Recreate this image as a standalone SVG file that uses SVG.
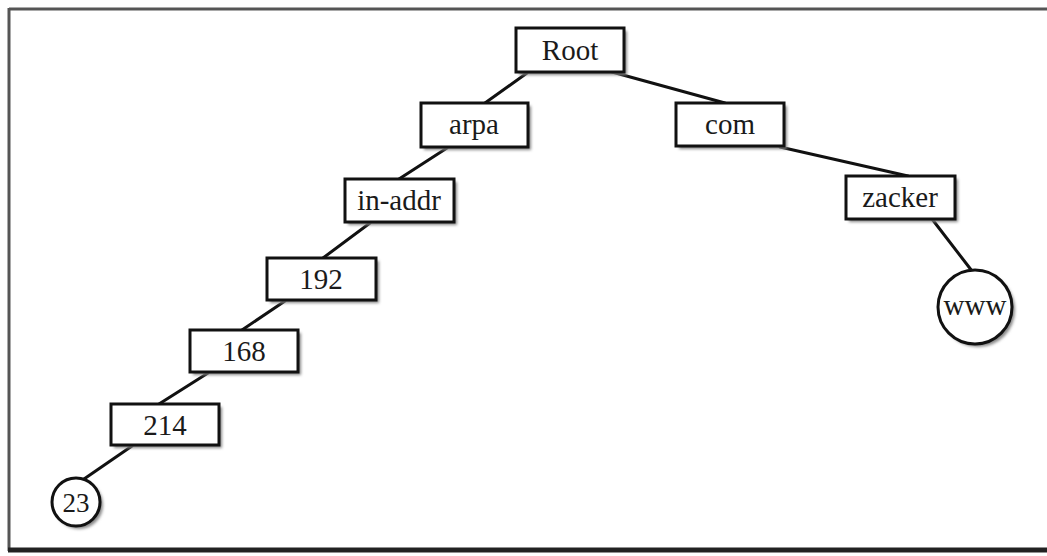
<svg xmlns="http://www.w3.org/2000/svg" width="1047" height="556" viewBox="0 0 1047 556">
<style>
.box{fill:#fff;stroke:#111;stroke-width:3}
.shadow{fill:#888;filter:url(#blur)}
.lbl{font-family:"Liberation Serif","Times New Roman",serif;font-size:29px;fill:#1a1a1a;text-anchor:middle}
.edge{stroke:#111;stroke-width:3;fill:none;stroke-linecap:round}
</style>
<defs>
<filter id="blur" x="-20%" y="-20%" width="140%" height="140%"><feGaussianBlur stdDeviation="1.5"/></filter>
</defs>
<rect width="1047" height="556" fill="#fff"/>
<g id="frame">
<line x1="9" y1="9" x2="1047" y2="9" stroke="#555" stroke-width="3"/>
<line x1="9" y1="8" x2="9" y2="551" stroke="#555" stroke-width="3"/>
<line x1="8" y1="550" x2="1047" y2="550" stroke="#222" stroke-width="5"/>
</g>
<g id="connectors">
<line class="edge" x1="527" y1="73" x2="485" y2="103"/>
<line class="edge" x1="612" y1="72" x2="725" y2="103"/>
<line class="edge" x1="447" y1="148" x2="399" y2="179"/>
<line class="edge" x1="780" y1="147" x2="908" y2="176"/>
<line class="edge" x1="370" y1="223" x2="323" y2="258"/>
<line class="edge" x1="932" y1="219" x2="972" y2="271"/>
<line class="edge" x1="285" y1="301" x2="242" y2="330"/>
<line class="edge" x1="208" y1="373" x2="159" y2="404"/>
<line class="edge" x1="132" y1="446" x2="84" y2="479"/>
</g>
<g id="node-root"><rect class="shadow" x="519" y="31" width="108" height="44"/><rect class="box" x="516" y="28" width="108" height="44"/><text class="lbl" x="570" y="60">Root</text></g>
<g id="node-arpa"><rect class="shadow" x="424" y="106" width="107" height="44"/><rect class="box" x="421" y="103" width="107" height="44"/><text class="lbl" x="474" y="134">arpa</text></g>
<g id="node-com"><rect class="shadow" x="679" y="106" width="108" height="43"/><rect class="box" x="676" y="103" width="108" height="43"/><text class="lbl" x="730" y="134">com</text></g>
<g id="node-in-addr"><rect class="shadow" x="348" y="182" width="109" height="43"/><rect class="box" x="345" y="179" width="109" height="43"/><text class="lbl" x="399" y="210">in-addr</text></g>
<g id="node-zacker"><rect class="shadow" x="849" y="179" width="109" height="43"/><rect class="box" x="846" y="176" width="109" height="43"/><text class="lbl" x="900" y="207">zacker</text></g>
<g id="node-192"><rect class="shadow" x="270" y="261" width="109" height="42"/><rect class="box" x="267" y="258" width="109" height="42"/><text class="lbl" x="321" y="289">192</text></g>
<g id="node-168"><rect class="shadow" x="193" y="333" width="108" height="42"/><rect class="box" x="190" y="330" width="108" height="42"/><text class="lbl" x="244" y="361">168</text></g>
<g id="node-214"><rect class="shadow" x="114" y="407" width="108" height="41"/><rect class="box" x="111" y="404" width="108" height="41"/><text class="lbl" x="165" y="435">214</text></g>
<g id="node-23"><circle class="shadow" cx="79" cy="505" r="24"/><circle class="box" cx="76" cy="502" r="24"/><text class="lbl" x="76" y="512" style="font-size:27px">23</text></g>
<g id="node-www"><circle class="shadow" cx="978" cy="310" r="37"/><circle class="box" cx="975" cy="307" r="37"/><text class="lbl" x="975" y="315">www</text></g>
</svg>
